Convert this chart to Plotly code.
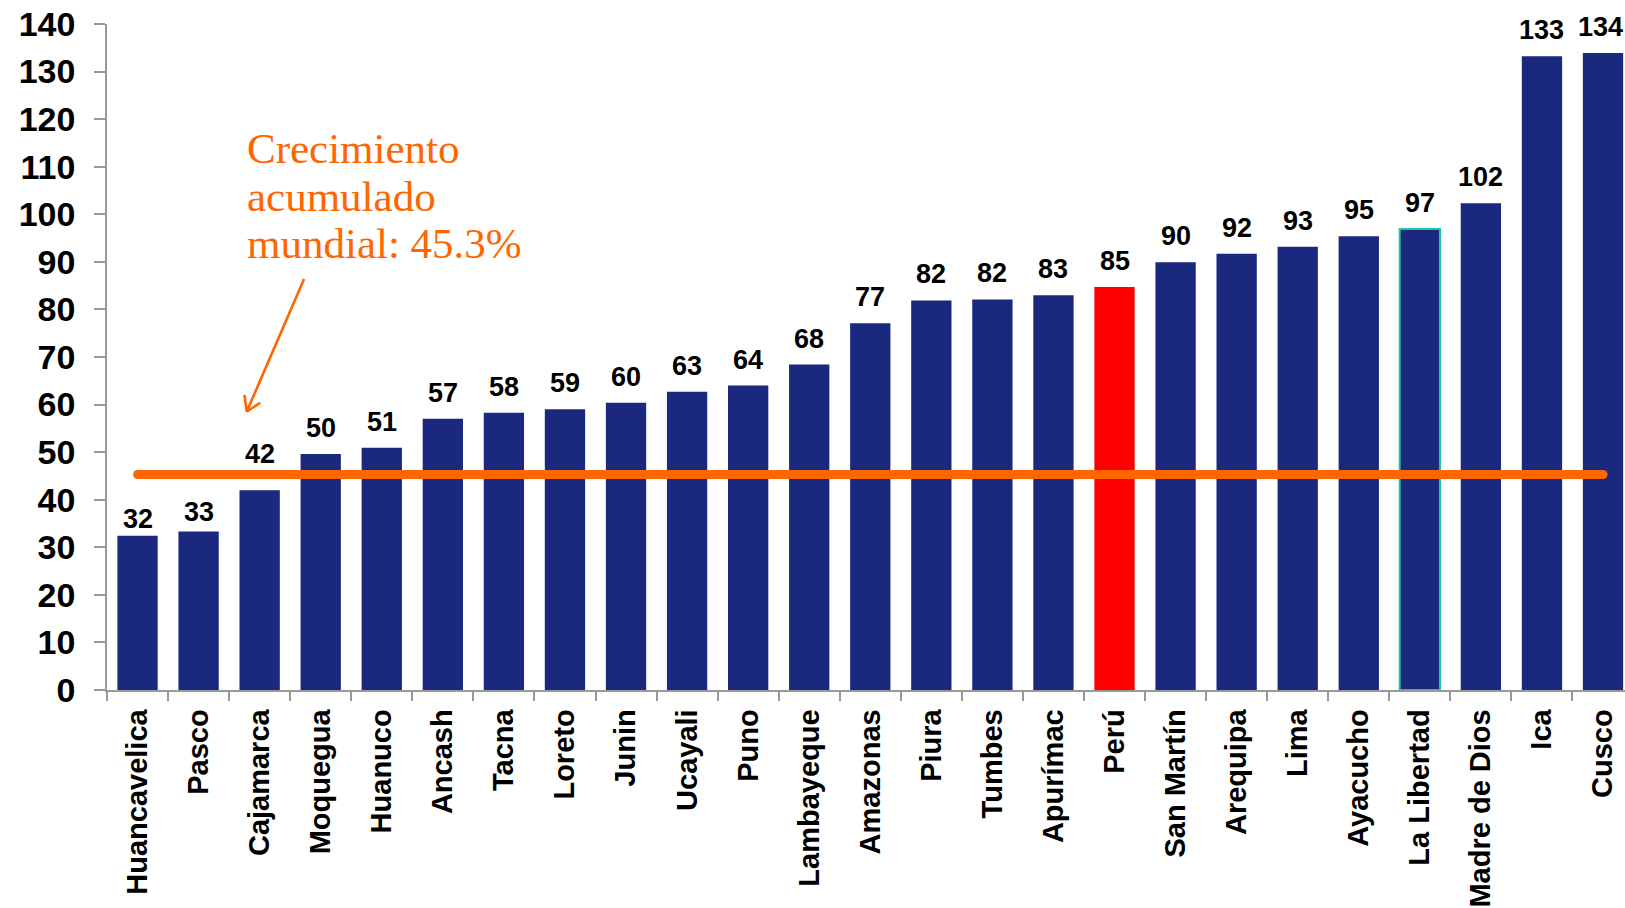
import plotly.graph_objects as go

regions = ["Huancavelica", "Pasco", "Cajamarca", "Moquegua", "Huanuco", "Ancash", "Tacna",
           "Loreto", "Junin", "Ucayali", "Puno", "Lambayeque", "Amazonas", "Piura", "Tumbes",
           "Apurímac", "Perú", "San Martín", "Arequipa", "Lima", "Ayacucho", "La Libertad",
           "Madre de Dios", "Ica", "Cusco"]
values = [32.4, 33.3, 42.0, 49.6, 50.9, 57.0, 58.3, 59.0, 60.4, 62.7, 64.0, 68.4, 77.1,
          81.9, 82.1, 83.0, 84.7, 89.9, 91.7, 93.2, 95.4, 96.9, 102.3, 133.2, 133.9]
world_growth = 45.3
y_ticks = list(range(0, 141, 10))
note_lines = ["Crecimiento", "acumulado", "mundial: 45.3%"]

NAVY = "#1A297E"
ORANGE = "#FF6600"
colors = ["#FF0000" if r == "Perú" else NAVY for r in regions]
line_colors = ["#20C4A0" if r == "La Libertad" else NAVY for r in regions]
line_widths = [2 if r == "La Libertad" else 0 for r in regions]
label_lift = {"Huancavelica": -9, "Pasco": -6, "Cajamarca": 10}
label_nudge = {"Cusco": -3}

fig = go.Figure()
fig.add_trace(go.Bar(
    x=regions, y=values,
    marker=dict(color=colors, line=dict(color=line_colors, width=line_widths)),
    showlegend=False, hoverinfo="x+y",
))
fig.add_trace(go.Scatter(
    x=[regions[0], regions[-1]], y=[world_growth, world_growth],
    mode="lines+markers",
    line=dict(color=ORANGE, width=9),
    marker=dict(color=ORANGE, size=9),
    showlegend=False, hoverinfo="skip",
))

# value labels above bars
for r, v in zip(regions, values):
    fig.add_annotation(
        x=r, y=v, xref="x", yref="y", text=f"{v:.0f}", showarrow=False,
        yanchor="middle", yshift=26 + label_lift.get(r, 0), xshift=label_nudge.get(r, 0),
        font=dict(family="Liberation Sans, Arial", size=27, color="black", weight="bold"),
    )

# note text, one line per annotation
Y_PER_PX = 140 / 666
for i, line in enumerate(note_lines):
    fig.add_annotation(
        x=1.765, y=110.8 - i * 47.6 * Y_PER_PX, xref="x", yref="y",
        xanchor="left", yanchor="bottom", yshift=-11,
        text=line, showarrow=False, align="left",
        font=dict(family="Liberation Serif, Times New Roman", size=43, color=ORANGE),
    )

# arrow: shaft + two open arms
tip_x, tip_y = 1.788, 58.5
fig.add_annotation(
    x=tip_x, y=tip_y, xref="x", yref="y", ax=2.738, ay=86.7, axref="x", ayref="y",
    text="", showarrow=True, arrowhead=0, arrowwidth=2.6, arrowcolor=ORANGE,
)
for dx, dy in [(-2.4, -18.4), (15, -10)]:
    fig.add_annotation(
        x=tip_x, y=tip_y, xref="x", yref="y", ax=dx, ay=dy,
        text="", showarrow=True, arrowhead=0, arrowwidth=2.6, arrowcolor=ORANGE,
    )

fig.update_layout(
    width=1625, height=908,
    margin=dict(l=107, r=0, t=24, b=218, autoexpand=False),
    plot_bgcolor="white", paper_bgcolor="white",
    bargap=0.34,
    font=dict(family="Liberation Sans, Arial", color="black"),
)
fig.update_xaxes(
    range=[-0.5, 24.36], tickangle=-90, showgrid=False, automargin=False,
    showline=True, linecolor="#999999", linewidth=1.5,
    ticks="outside", tickson="boundaries", ticklen=9, tickcolor="#999999", tickwidth=1.5,
    ticklabelstandoff=6,
    tickfont=dict(family="Liberation Sans, Arial", size=29, color="black", weight="bold"),
)
fig.update_yaxes(
    range=[0, 140], tickvals=y_ticks, showgrid=False, zeroline=False, automargin=False,
    showline=True, linecolor="#999999", linewidth=1.5,
    ticks="outside", ticklen=11, tickcolor="#999999", tickwidth=1.5,
    ticklabelstandoff=12, ticklabeloverflow="allow",
    tickfont=dict(family="Liberation Sans, Arial", size=34, color="black", weight="bold"),
)

fig.write_html(
    "out.html",
    config={"displayModeBar": False},
    post_script="document.body.style.margin='0';document.body.style.overflow='hidden';",
)
